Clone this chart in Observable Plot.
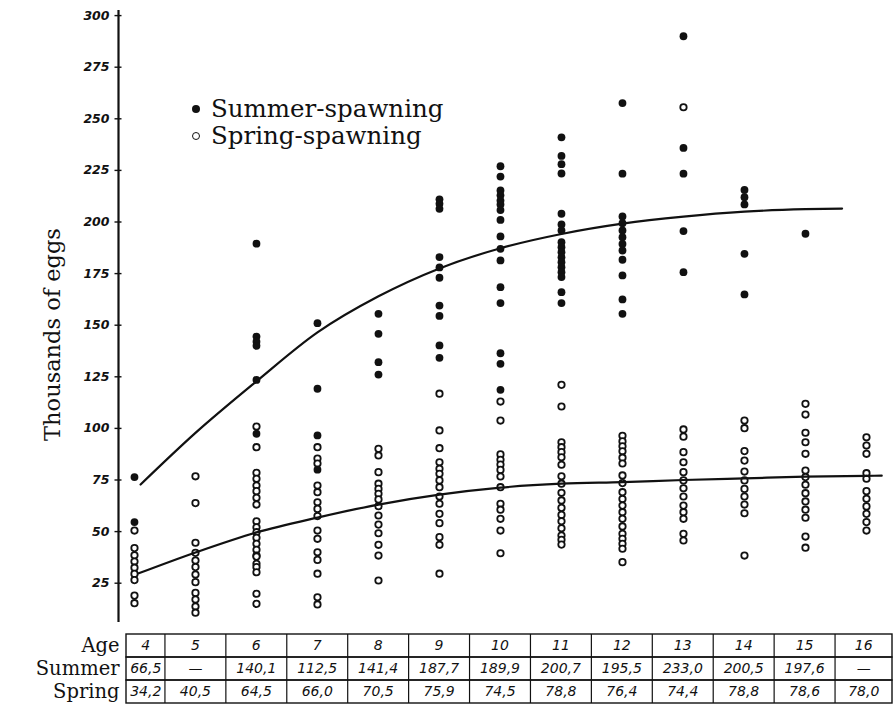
<!DOCTYPE html>
<html>
<head>
<meta charset="utf-8">
<script src="https://cdn.jsdelivr.net/npm/d3@7"></script>
<script src="https://cdn.jsdelivr.net/npm/@observablehq/plot@0.6"></script>
<style>
  html, body { margin: 0; padding: 0; background: white; }
  #wrap { position: relative; width: 893px; height: 711px; overflow: hidden; background: white; }
  #legend { position: absolute; left: 192px; top: 95px; font-family: "DejaVu Serif", serif; font-size: 24.5px; line-height: 27px; color: #111; white-space: nowrap; }
  .sw { display: inline-block; width: 8px; height: 8px; border-radius: 50%; box-sizing: border-box; vertical-align: middle; margin-right: 11px; position: relative; top: -2px; }
  .filled { background: #111; }
  .open { border: 1.7px solid #111; background: white; }
  svg { display: block; }
</style>
</head>
<body>
<div id="wrap">
  <div id="chart"></div>
  <div id="table"></div>
  <div id="legend">
    <div><span class="sw filled"></span>Summer-spawning</div>
    <div><span class="sw open"></span>Spring-spawning</div>
  </div>
</div>
<script>
// ---- data ----
const ages = [4, 5, 6, 7, 8, 9, 10, 11, 12, 13, 14, 15, 16];

// Summer-spawning individual fish (thousands of eggs), one list per age
const summerEggs = [
  [76.4, 54.6],
  [],
  [189.5, 144.5, 142, 140, 123.5, 97.4],
  [151, 119.2, 96.6, 80],
  [155.5, 145.8, 132.1, 126.1],
  [211, 208.8, 206.4, 183, 178, 173, 159.5, 154.5, 140.2, 134.2],
  [227, 222, 215.3, 212.9, 210.4, 208.5, 205.8, 201, 193, 187, 181.4, 168.4, 160.7, 136.4, 131.3, 118.7],
  [241, 232, 228, 223.5, 204, 198.8, 195.9, 190.2, 187.8, 185.4, 182.9, 180.5, 178.1, 175.7, 173.3, 166, 160.7],
  [257.6, 223.4, 202.7, 199.4, 195.9, 192.6, 189.4, 186.2, 181.7, 174.1, 162.5, 155.5],
  [290, 235.9, 223.4, 195.6, 175.7],
  [215.5, 212, 208.5, 184.6, 164.9],
  [194.3],
  []
];

// Spring-spawning individual fish (thousands of eggs), one list per age
const springEggs = [
  [50.5, 42, 38.5, 35.5, 32.5, 29.5, 26.5, 19, 15.3],
  [76.8, 63.8, 44.6, 39.7, 36, 32.8, 29.2, 25.5, 20.3, 17.1, 13.7, 10.7],
  [100.9, 90.9, 78.5, 75.6, 72.3, 69.6, 66.4, 63.1, 55, 52.1, 49.7, 47, 44.1, 41.2, 38.4, 37.9, 34.4, 32.8, 30.3, 19.9, 15],
  [90.9, 85.4, 83, 72.3, 69.1, 64.2, 61, 57.5, 50.5, 46.5, 40, 36.3, 29.6, 18.2, 14.7],
  [90.1, 86.9, 78.8, 73.2, 70.7, 68.3, 65.6, 62.3, 57.8, 53.4, 49.2, 43.6, 38.4, 26.3],
  [116.8, 99, 90.4, 83.6, 80.4, 78, 74.8, 71.5, 67, 63.5, 58.6, 54.1, 47.3, 43.6, 29.6],
  [113, 103.8, 87.4, 84.8, 82.5, 79.9, 76.7, 71.5, 63.5, 60.6, 56.2, 50.5, 39.5],
  [121.1, 110.6, 93.3, 90.9, 88.5, 86, 82.4, 76.8, 73.2, 68.8, 65.1, 61.5, 58.1, 55, 51.6, 48.1, 46, 43.7],
  [96.4, 93.7, 91.3, 88.9, 85.8, 83, 77.2, 73.5, 69.1, 65.8, 62.6, 59.4, 56.2, 52.5, 48.9, 46.5, 44.1, 41.7, 35.2],
  [255.6, 99.5, 96, 88.5, 83.6, 78.8, 74.8, 71, 67, 62.6, 59.4, 56.2, 48.9, 45.7],
  [103.8, 100.1, 89, 84.4, 79.1, 74.8, 70.7, 67, 63.1, 58.9, 38.4],
  [111.9, 106.7, 97.9, 93.3, 87.7, 79.6, 76.4, 72.7, 68.6, 64.6, 60.6, 56.7, 47.6, 42.2],
  [95.7, 91.7, 87.7, 78.3, 75.6, 69.6, 65.9, 62.2, 58.6, 54.6, 50.5]
];

// fitted curves
const summerCurveAge  = [4.1, 5, 6, 7, 8, 9, 10, 11, 12, 13, 14, 15, 15.6];
const summerCurveEggs = [72.8, 97.8, 122.8, 146.5, 164, 177.5, 187.3, 194.2, 199.2, 202.6, 205, 206.2, 206.5];
const springCurveAge  = [4.07, 5, 6, 7, 8, 9, 10, 11, 12, 13, 14, 15, 16, 16.25];
const springCurveEggs = [29.8, 39.9, 49.6, 56.8, 63.1, 67.9, 71.3, 73.2, 74.0, 75.0, 75.8, 76.6, 77.0, 77.1];

// table below the chart
const tableRows = ["Age", "Summer", "Spring"];
const summerMeans = ["66,5", "—", "140,1", "112,5", "141,4", "187,7", "189,9", "200,7", "195,5", "233,0", "200,5", "197,6", "—"];
const springMeans = ["34,2", "40,5", "64,5", "66,0", "70,5", "75,9", "74,5", "78,8", "76,4", "74,4", "78,8", "78,6", "78,0"];

const yTicks = [25, 50, 75, 100, 125, 150, 175, 200, 225, 250, 275, 300];
const yTitle = "Thousands of eggs";

// ---- build tables ----
const summerPts = ages.flatMap((a, i) => summerEggs[i].map(v => ({age: a, eggs: v})));
const springPts = ages.flatMap((a, i) => springEggs[i].map(v => ({age: a, eggs: v})));
const summerCurve = summerCurveAge.map((a, i) => ({age: a, eggs: summerCurveEggs[i]}));
const springCurve = springCurveAge.map((a, i) => ({age: a, eggs: springCurveEggs[i]}));

const xDomain = [3.738, 16.443];
const yDomain = [5.96, 302.47];

const chart = Plot.plot({
  width: 893, height: 622,
  marginLeft: 118, marginRight: 0, marginTop: 10, marginBottom: 0,
  style: {background: "white", color: "#111", overflow: "visible"},
  x: {domain: xDomain, axis: null},
  y: {domain: yDomain, axis: null, label: null},
  marks: [
    Plot.ruleX([xDomain[0]], {stroke: "#111", strokeWidth: 2.2}),
    Plot.axisY({ticks: yTicks, tickSize: 7, dx: 3.5, tickFormat: () => "", label: null, strokeWidth: 1.4}),
    Plot.axisY({ticks: yTicks, tickSize: 0, tickPadding: 9, label: null,
      fontSize: 12.5, fontStyle: "italic", fontWeight: "bold", fontFamily: "DejaVu Sans"}),
    Plot.dot(springPts, {x: "age", y: "eggs", r: 3.2, stroke: "#111", strokeWidth: 1.8, fill: "white"}),
    Plot.line(springCurve, {x: "age", y: "eggs", curve: "monotone-x", stroke: "#111", strokeWidth: 2.2}),
    Plot.line(summerCurve, {x: "age", y: "eggs", curve: "monotone-x", stroke: "#111", strokeWidth: 2.2}),
    Plot.dot(summerPts, {x: "age", y: "eggs", r: 3.9, fill: "#111", stroke: null}),
    Plot.text([yTitle], {text: d => d, frameAnchor: "left", textAnchor: "middle", lineAnchor: "middle",
      rotate: -90, dx: -66, dy: 18, fontSize: 22.5, fontFamily: "DejaVu Serif", fill: "#111"})
  ]
});
document.getElementById("chart").appendChild(chart);

const tDomain = [3.869, 16.443];
// cell centre = midpoint of the column's left and right borders (first column is clipped by the table edge)
const colCentre = a => (Math.max(a - 0.5, tDomain[0]) + Math.min(a + 0.5, tDomain[1])) / 2;
const cells = [
  ...ages.map((a, i) => ({col: colCentre(a), row: "Age", label: String(a)})),
  ...ages.map((a, i) => ({col: colCentre(a), row: "Summer", label: summerMeans[i]})),
  ...ages.map((a, i) => ({col: colCentre(a), row: "Spring", label: springMeans[i]}))
];

const table = Plot.plot({
  width: 893, height: 89,
  marginLeft: 126, marginRight: 1, marginTop: 12, marginBottom: 8,
  style: {background: "white", color: "#111", overflow: "visible"},
  x: {domain: tDomain, axis: null},
  y: {domain: tableRows, padding: 0, axis: null, label: null},
  marks: [
    Plot.barX(tableRows, {x1: tDomain[0], x2: tDomain[1], y: d => d, fill: "none", stroke: "#111", strokeWidth: 1.4}),
    Plot.ruleX(ages.slice(0, -1), {x: d => d + 0.5, stroke: "#111", strokeWidth: 1.2}),
    Plot.axisY({tickSize: 0, tickPadding: 7, label: null, fontSize: 19.5, fontFamily: "DejaVu Serif"}),
    Plot.text(cells, {x: "col", y: "row", text: "label", fontSize: 14, fontStyle: "italic", fontFamily: "DejaVu Sans", fill: "#111"})
  ]
});
document.getElementById("table").appendChild(table);
</script>
</body>
</html>
